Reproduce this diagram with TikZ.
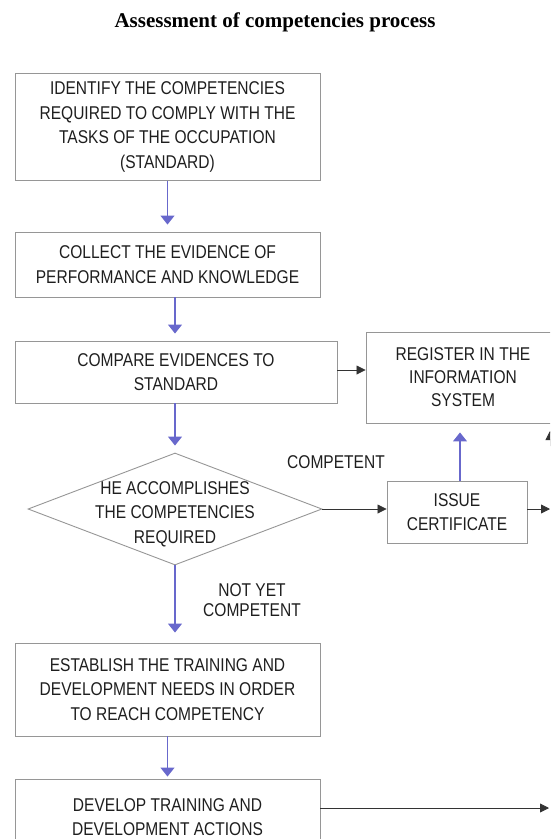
\documentclass[tikz,border=0pt]{standalone}
\usepackage{fontspec}
\setmainfont{Liberation Serif}
\newfontfamily\boxfont[FakeStretch=0.84]{Liberation Sans}
\usetikzlibrary{shapes.geometric,arrows.meta}
\definecolor{flowblue}{RGB}{104,104,204}
\definecolor{boxgray}{RGB}{150,150,150}
\definecolor{inkgray}{RGB}{30,30,30}
\begin{document}
\begin{tikzpicture}[
    x=1pt, y=-1pt,
    stepbox/.style={rectangle, draw=boxgray, line width=0.9pt, inner sep=0pt,
        align=center, text=inkgray, font=\boxfont\fontsize{18.5}{24.5}\selectfont},
    decision/.style={diamond, draw=boxgray, line width=0.9pt, inner sep=0pt,
        minimum width=294pt, minimum height=112pt},
    lbl/.style={align=center, text=inkgray, font=\boxfont\fontsize{18.5}{20}\selectfont},
    nxt/.style={-{Triangle[width=14pt,length=9pt]}, line width=1.2pt, color=flowblue, shorten >=7pt},
    blk/.style={-{Triangle[width=9pt,length=9pt]}, line width=0.8pt, color=black!80}
]
\clip (0,0) rectangle (550,839);

\node[font=\bfseries\fontsize{21}{24}\selectfont] (title) at (275,22) {Assessment of competencies process};

\node[stepbox, minimum width=305pt, minimum height=107pt] (identify) at (167.5,127)
    {IDENTIFY THE COMPETENCIES\\REQUIRED TO COMPLY WITH THE\\TASKS OF THE OCCUPATION\\(STANDARD)};
\node[stepbox, minimum width=305pt, minimum height=65pt] (collect) at (167.5,264.5)
    {COLLECT THE EVIDENCE OF\\PERFORMANCE AND KNOWLEDGE};
\node[stepbox, minimum width=322pt, minimum height=62pt] (compare) at (176,372)
    {COMPARE EVIDENCES TO\\STANDARD};
\node[stepbox, minimum width=194pt, minimum height=91pt, font=\boxfont\fontsize{18.5}{23}\selectfont] (register) at (463,377.5)
    {REGISTER IN THE\\INFORMATION\\SYSTEM};

\node[decision] (accomplish) at (175,509) {};
\node[lbl, font=\boxfont\fontsize{18.5}{24.5}\selectfont] (accomplishtext) at (175,514)
    {HE ACCOMPLISHES\\THE COMPETENCIES\\REQUIRED};
\node[stepbox, minimum width=140pt, minimum height=62pt] (issue) at (457,512)
    {ISSUE\\CERTIFICATE};

\node[lbl] (yes) at (336,462) {COMPETENT};
\node[lbl] (notyet) at (252,600) {NOT YET\\COMPETENT};

\node[stepbox, minimum width=305pt, minimum height=93pt] (establish) at (167.5,689.5)
    {ESTABLISH THE TRAINING AND\\DEVELOPMENT NEEDS IN ORDER\\TO REACH COMPETENCY};
\node[stepbox, minimum width=305pt, minimum height=76pt] (develop) at (167.5,817)
    {DEVELOP TRAINING AND\\DEVELOPMENT ACTIONS};

% loose ends at the right edge
\coordinate (outissue) at (550,509);
\coordinate (outdevelop) at (549,808);
\coordinate (upfoot) at (550,446);
\coordinate (uptip) at (550,431);

\draw[nxt] (identify) -- (collect);
\draw[nxt] (collect.south -| accomplish.north) -- (compare.north -| accomplish.north);
\draw[nxt] (compare.south -| accomplish.north) -- (accomplish);
\draw[nxt, shorten >=10pt] (accomplish) -- (establish.north -| accomplish.south);
\draw[nxt, shorten >=2pt] (establish) -- (develop);
\draw[nxt, shorten >=9pt] (issue.north -| 460,0) -- (register.south -| 460,0);

\draw[blk] (compare.east |- 0,370) -- (register.west |- 0,370);
\draw[blk] (accomplish.east) -- (accomplish.east -| issue.west);
\draw[blk] (issue.east |- outissue) -- (outissue);
\draw[blk] (upfoot) -- (uptip);
\draw[blk] (develop.east |- outdevelop) -- (outdevelop);
\end{tikzpicture}
\end{document}
